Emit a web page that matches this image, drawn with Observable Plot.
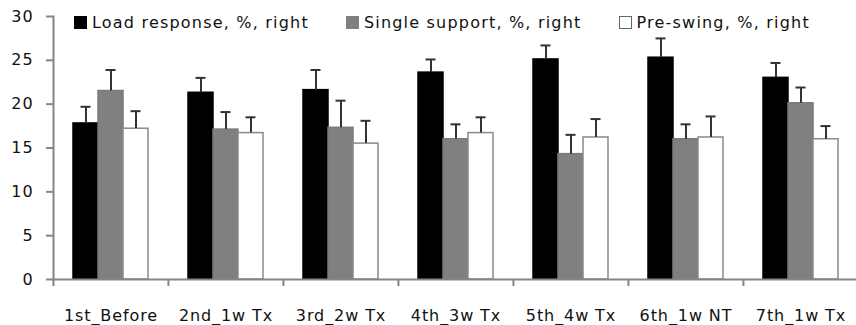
<!DOCTYPE html>
<html>
<head>
<meta charset="utf-8">
<script src="https://cdn.jsdelivr.net/npm/d3@7"></script>
<script src="https://cdn.jsdelivr.net/npm/@observablehq/plot@0.6"></script>
<style>
  body { margin: 0; background: #fff; }
  #wrap { position: relative; width: 856px; height: 325px; font-family: "DejaVu Sans", sans-serif; }
  #legend { position: absolute; left: 74px; top: 12px; height: 20px; display: flex; align-items: center; gap: 37px; font-size: 16px; letter-spacing: 1.2px; color: #111; }
  .item { display: flex; align-items: center; }
  .sw { width: 13px; height: 13px; margin-right: 5px; box-sizing: border-box; }
  svg text { letter-spacing: 0.9px; }
</style>
</head>
<body>
<div id="wrap"></div>
<script>
const categories = ["1st_Before", "2nd_1w Tx", "3rd_2w Tx", "4th_3w Tx", "5th_4w Tx", "6th_1w NT", "7th_1w Tx"];
const seriesNames = ["Load response, %, right", "Single support, %, right", "Pre-swing, %, right"];
const loadResponse = [17.8, 21.3, 21.6, 23.6, 25.1, 25.3, 23.0];
const loadResponseErr = [1.9, 1.7, 2.3, 1.5, 1.6, 2.2, 1.7];
const singleSupport = [21.5, 17.1, 17.3, 16.0, 14.3, 16.0, 20.1];
const singleSupportErr = [2.4, 2.0, 3.1, 1.7, 2.2, 1.7, 1.8];
const preSwing = [17.2, 16.7, 15.5, 16.7, 16.2, 16.2, 16.0];
const preSwingErr = [2.0, 1.8, 2.6, 1.8, 2.1, 2.4, 1.5];
const yTicks = [0, 5, 10, 15, 20, 25, 30];
const fills = ["#000000", "#808080", "#ffffff"];
const strokes = ["#000000", "#7a7a7a", "#8a8a8a"];

const valueArrays = [loadResponse, singleSupport, preSwing];
const errArrays = [loadResponseErr, singleSupportErr, preSwingErr];
const rows = [];
categories.forEach((c, i) => {
  seriesNames.forEach((s, k) => {
    rows.push({cat: c, series: s, value: valueArrays[k][i], err: errArrays[k][i]});
  });
});

const axisGray = "#868686";
const bandHalf = (856 + 2 - 52) / categories.length / 2;

const chart = Plot.plot({
  width: 856,
  height: 325,
  marginTop: 16,
  marginLeft: 52,
  marginRight: -2,
  marginBottom: 46,
  style: {fontFamily: "'DejaVu Sans', sans-serif", fontSize: "16px", background: "#fff", color: "#111"},
  fx: {domain: categories, padding: 0, axis: null, label: null},
  x: {domain: seriesNames, paddingInner: 0, paddingOuter: 0.78, axis: null},
  y: {domain: [0, 30], axis: null},
  color: {domain: seriesNames, range: fills},
  marks: [
    Plot.barY(rows, {fx: "cat", x: "series", y: "value", fill: "series",
      stroke: d => strokes[seriesNames.indexOf(d.series)], strokeWidth: 1.5}),
    Plot.ruleX(rows, {fx: "cat", x: "series", y1: "value", y2: d => d.value + d.err, stroke: "#333", strokeWidth: 2}),
    Plot.tickY(rows, {fx: "cat", x: "series", y: d => d.value + d.err, stroke: "#333", strokeWidth: 2, insetLeft: 7.5, insetRight: 7.5}),
    Plot.ruleY([0], {stroke: axisGray, strokeWidth: 2}),
    Plot.frame({anchor: "left", facetAnchor: "left", stroke: axisGray, strokeWidth: 2}),
    Plot.axisY({ticks: yTicks, tickSize: 7, tickPadding: 13, stroke: axisGray, strokeWidth: 2, fill: "#111", label: null, fontSize: 16}),
    Plot.axisFx({anchor: "bottom", tickSize: 0, tickPadding: 30, label: null, fill: "#111", fontSize: 16}),
    Plot.axisFx({anchor: "bottom", tickSize: 7, tickFormat: () => "", dx: -bandHalf, stroke: axisGray, strokeWidth: 2, label: null})
  ]
});

const wrap = document.getElementById("wrap");
wrap.appendChild(chart);
const legend = document.createElement("div");
legend.id = "legend";
seriesNames.forEach((s, k) => {
  const item = document.createElement("div");
  item.className = "item";
  const sw = document.createElement("div");
  sw.className = "sw";
  sw.style.background = fills[k];
  sw.style.border = `1px solid ${k === 2 ? "#666" : fills[k]}`;
  const t = document.createElement("span");
  t.textContent = s;
  item.appendChild(sw);
  item.appendChild(t);
  legend.appendChild(item);
});
wrap.appendChild(legend);
</script>
</body>
</html>
